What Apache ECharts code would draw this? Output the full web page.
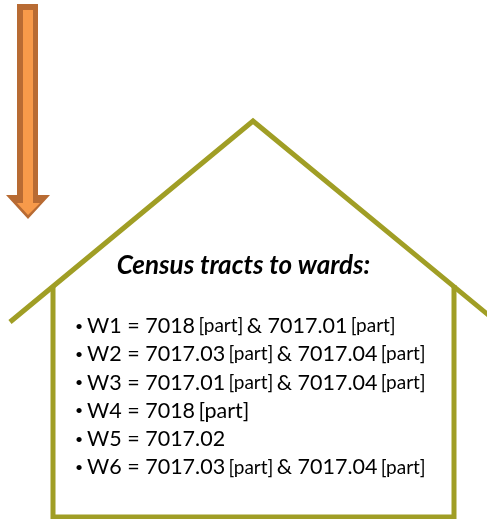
<!DOCTYPE html>
<html>
<head>
<meta charset="utf-8">
<script src="https://cdn.jsdelivr.net/npm/echarts@6/dist/echarts.min.js"></script>
<style>
  html, body { margin: 0; padding: 0; background: #fff; }
  #main { width: 487px; height: 519px; }
</style>
</head>
<body>
<div id="main"></div>
<script>
// heading and rows of the ward table
var title = 'Census tracts to wards:';
var wards = ['W1', 'W2', 'W3', 'W4', 'W5', 'W6'];
var firstTract = ['7018', '7017.03', '7017.01', '7018', '7017.02', '7017.03'];
var firstPart = [true, true, true, true, false, true];
var secondTract = ['7017.01', '7017.04', '7017.04', '', '', '7017.04'];
var secondPart = [true, true, true, false, false, true];

var LINE = '#a09e25';
var FONT = 'Lato, "Open Sans", sans-serif';

// build rich text for a row
function rowText(i) {
    var s = '{b|•}{m|' + wards[i] + ' = ' + firstTract[i] + '}';
    if (firstPart[i]) {
        // W4 has its [part] at full size
        s += secondTract[i] ? ' {p|[part]}' : ' {m|[part]}';
    }
    if (secondTract[i]) {
        s += ' {m|& ' + secondTract[i] + '}';
        if (secondPart[i]) s += ' {p|[part]}';
    }
    return s;
}

var myChart = echarts.init(document.getElementById('main'));

var rows = wards.map(function (w, i) {
    return {
        type: 'text',
        left: 75,
        top: 315 + i * 28.3,
        style: {
            text: rowText(i),
            fill: '#000',
            rich: {
                b: { fontSize: 14, fontFamily: FONT, fill: '#000', width: 12 },
                m: { fontSize: 21.5, fontFamily: FONT, fill: '#000' },
                p: { fontSize: 19, fontFamily: FONT, fill: '#000' }
            }
        }
    };
});

myChart.setOption({
    backgroundColor: '#fff',
    graphic: [
        // house outline
        {
            type: 'polyline',
            shape: { points: [[10, 322], [253, 121], [492, 318]] },
            style: { stroke: LINE, lineWidth: 5, fill: null, lineJoin: 'miter' }
        },
        {
            type: 'polyline',
            shape: { points: [[53, 286], [53, 517], [454, 517], [454, 285]] },
            style: { stroke: LINE, lineWidth: 5, fill: null }
        },
        // arrow: dark outer, light inner
        {
            type: 'polygon',
            shape: { points: [[17, 4], [38, 4], [38, 195], [50, 195], [28, 219], [6, 195], [17, 195]] },
            style: { fill: '#b86b33' }
        },
        {
            type: 'polygon',
            shape: { points: [[23, 10], [33, 10], [33, 203], [40, 203], [28, 215], [17, 203], [23, 203]] },
            style: { fill: '#f79a4a' }
        },
        {
            type: 'text',
            left: 'center',
            top: 253,
            style: {
                text: title,
                fill: '#000',
                font: 'italic bold 26px ' + FONT
            }
        }
    ].concat(rows)
});
</script>
</body>
</html>
